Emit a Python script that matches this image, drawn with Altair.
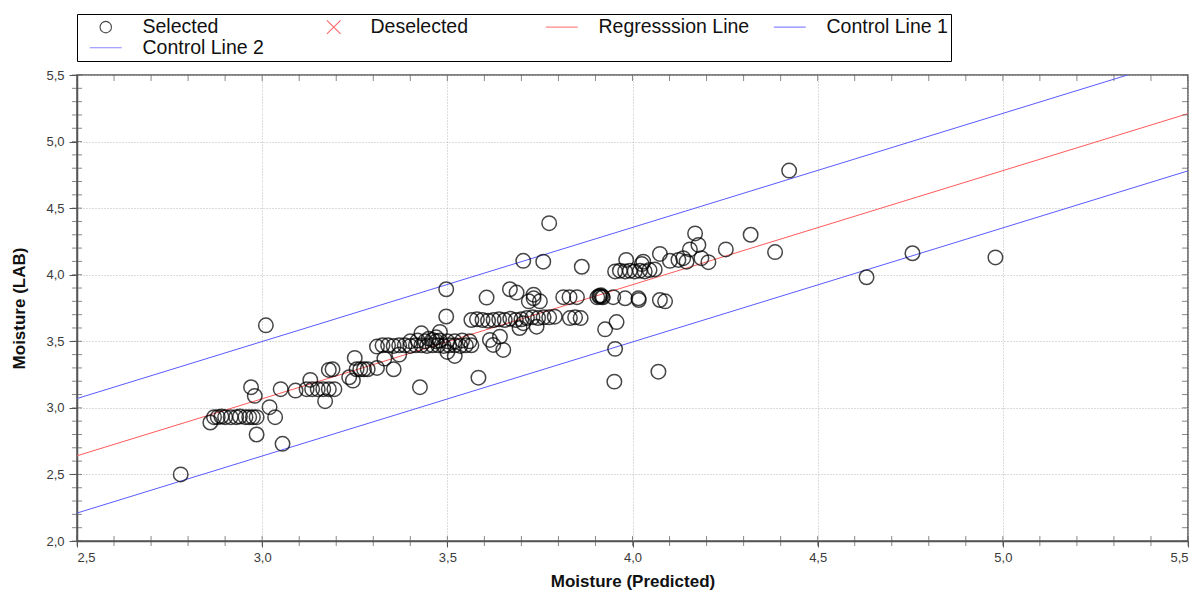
import altair as alt
import pandas as pd

# ---- data ----
x_pred = [
    2.78, 2.86, 2.87, 2.88, 2.89, 2.90, 2.915, 2.93, 2.94, 2.955, 2.965, 2.975, 2.985,
    2.97, 2.98, 2.985, 3.01, 3.02, 3.035, 3.05, 3.055,
    3.09, 3.12, 3.135, 3.15, 3.165, 3.18, 3.195, 3.13, 3.17, 3.18, 3.19,
    3.235, 3.245, 3.25, 3.255, 3.265, 3.275, 3.285, 3.31, 3.31, 3.33, 3.355, 3.37,
    3.325, 3.34, 3.355, 3.37, 3.385, 3.40, 3.415, 3.43, 3.445, 3.46, 3.475, 3.49, 3.505,
    3.52, 3.535, 3.55, 3.565,
    3.40, 3.42, 3.44, 3.46, 3.47, 3.48, 3.50, 3.52, 3.54, 3.56,
    3.43, 3.48, 3.426, 3.52, 3.50, 3.497, 3.497, 3.45, 3.47,
    3.565, 3.58, 3.595, 3.61, 3.625, 3.64, 3.655, 3.67, 3.685, 3.70, 3.715, 3.73, 3.745,
    3.76, 3.775, 3.79,
    3.606, 3.584, 3.615, 3.642, 3.651, 3.624, 3.669, 3.687, 3.733, 3.733, 3.72, 3.75,
    3.705, 3.741, 3.695, 3.705, 3.759, 3.775,
    3.813, 3.83, 3.85, 3.831, 3.845, 3.86, 3.863,
    3.905, 3.91, 3.912, 3.915, 3.918, 3.92,
    3.926, 3.957, 3.953, 3.951, 4.07,
    3.948, 3.98, 4.016, 4.017, 4.074, 4.088,
    3.953, 3.966, 3.98, 3.993, 4.006, 4.02, 4.033, 4.046, 4.06,
    3.983, 4.029, 4.025, 4.074, 4.101,
    4.124, 4.137, 4.146, 4.155, 4.169, 4.178, 4.186, 4.205, 4.252, 4.319, 4.385, 4.423,
    4.632, 4.756, 4.98,
]
y_lab = [
    2.50, 2.89, 2.93, 2.93, 2.935, 2.93, 2.93, 2.93, 2.935, 2.93, 2.93, 2.93, 2.93,
    3.155, 3.09, 2.80, 3.62, 3.005, 2.93, 3.14, 2.73,
    3.13, 3.14, 3.14, 3.14, 3.14, 3.14, 3.14, 3.21, 3.05, 3.285, 3.29,
    3.23, 3.205, 3.375, 3.29, 3.29, 3.29, 3.29, 3.30, 3.46, 3.37, 3.29, 3.40,
    3.47, 3.47, 3.465, 3.47, 3.47, 3.465, 3.47, 3.47, 3.465, 3.47, 3.47, 3.465, 3.47,
    3.47, 3.465, 3.47, 3.47,
    3.50, 3.505, 3.50, 3.51, 3.50, 3.505, 3.50, 3.50, 3.505, 3.50,
    3.56, 3.57, 3.155, 3.39, 3.42, 3.686, 3.891, 3.52, 3.53,
    3.66, 3.665, 3.66, 3.655, 3.66, 3.665, 3.66, 3.67, 3.66, 3.665, 3.675, 3.68, 3.675,
    3.68, 3.68, 3.685,
    3.828, 3.227, 3.51, 3.535, 3.435, 3.473, 3.891, 3.866, 3.823, 3.85, 3.80, 3.80,
    3.636, 3.61, 3.60, 4.104, 4.098, 4.387,
    3.831, 3.831, 3.831, 3.674, 3.68, 3.674, 4.06,
    3.83, 3.84, 3.836, 3.845, 3.835, 3.83,
    3.59, 3.644, 3.443, 3.197, 3.272,
    3.831, 3.823, 3.823, 3.81, 3.81, 3.80,
    4.025, 4.03, 4.025, 4.03, 4.025, 4.03, 4.025, 4.035, 4.04,
    4.111, 4.098, 4.08, 4.156, 4.104,
    4.111, 4.124, 4.098, 4.19, 4.31, 4.224, 4.124, 4.094, 4.19, 4.30, 4.17, 4.782,
    3.981, 4.161, 4.13,
]

series_names = ["Selected", "Deselected", "Regresssion Line", "Control Line 1", "Control Line 2"]
series_colors = ["#000000", "#ff3030", "#ff5a5a", "#5a5aff", "#5a5aff"]

line_x = [2.5, 5.5]
regression_y = [2.64, 5.21]
control1_y = [3.07, 5.64]
control2_y = [2.21, 4.78]

x_major = [2.5, 3.0, 3.5, 4.0, 4.5, 5.0, 5.5]
y_major = [2.0, 2.5, 3.0, 3.5, 4.0, 4.5, 5.0, 5.5]
x_all_ticks = [2.5, 2.6, 2.7, 2.8, 2.9, 3.0, 3.1, 3.2, 3.3, 3.4, 3.5, 3.6, 3.7, 3.8, 3.9,
               4.0, 4.1, 4.2, 4.3, 4.4, 4.5, 4.6, 4.7, 4.8, 4.9, 5.0, 5.1, 5.2, 5.3, 5.4, 5.5]
y_all_ticks = [2.0, 2.1, 2.2, 2.3, 2.4, 2.5, 2.6, 2.7, 2.8, 2.9, 3.0, 3.1, 3.2, 3.3, 3.4,
               3.5, 3.6, 3.7, 3.8, 3.9, 4.0, 4.1, 4.2, 4.3, 4.4, 4.5, 4.6, 4.7, 4.8, 4.9,
               5.0, 5.1, 5.2, 5.3, 5.4, 5.5]

# ---- tables ----
points = pd.DataFrame({"x": x_pred, "y": y_lab, "series": "Selected"})
reg_df = pd.DataFrame({"x": line_x, "y": regression_y})
c1_df = pd.DataFrame({"x": line_x, "y": control1_y})
c2_df = pd.DataFrame({"x": line_x, "y": control2_y})
xt_df = pd.DataFrame({"t": x_all_ticks})
yt_df = pd.DataFrame({"t": y_all_ticks})

FONT = "Liberation Sans"
comma = "replace(format(datum.value, '.1f'), '.', ',')"

xs = alt.Scale(domain=[2.5, 5.5], nice=False, zero=False)
ys = alt.Scale(domain=[2.0, 5.5], nice=False, zero=False)

x_axis = alt.Axis(values=x_major, labelExpr=comma, title="Moisture (Predicted)",
                  grid=True, gridDash=[1, 2], gridColor="#b8b8b8", gridWidth=1,
                  tickSize=6, tickColor="#555555", labelPadding=4, titlePadding=9,
                  domainColor="#555555", domainWidth=1.5)
y_axis = alt.Axis(values=y_major, labelExpr=comma, title="Moisture (LAB)",
                  grid=True, gridDash=[1, 2], gridColor="#b8b8b8", gridWidth=1,
                  tickSize=8, tickColor="#555555", labelPadding=5, titlePadding=17,
                  domainColor="#555555", domainWidth=1.5)

X_PATH = "M-1.2,-1.2L1.2,1.2M-1.2,1.2L1.2,-1.2"
LINE_PATH = "M-2.8,0L2.8,0"

legend = alt.Legend(
    title=None, orient="none", legendX=0, legendY=-61, direction="horizontal",
    columns=4, gridAlign="all", columnPadding=14, rowPadding=0,
    fillColor="white", strokeColor="#000000", padding=3,
    labelFont=FONT, labelFontSize=19.5, labelColor="#111111", labelLimit=400,
    labelOffset=27, symbolSize=130, symbolStrokeWidth=1.1, symbolOffset=16,
)

pts = alt.Chart(points).mark_point(filled=False, size=210, strokeWidth=1.5, opacity=0.72).encode(
    x=alt.X("x:Q", scale=xs, axis=x_axis),
    y=alt.Y("y:Q", scale=ys, axis=y_axis),
    color=alt.Color("series:N", scale=alt.Scale(domain=series_names, range=series_colors), legend=legend),
    shape=alt.Shape("series:N", scale=alt.Scale(domain=series_names,
                    range=["circle", X_PATH, LINE_PATH, LINE_PATH, LINE_PATH]), legend=legend),
)

def line_layer(df, color):
    return alt.Chart(df).mark_line(color=color, strokeWidth=1, clip=True).encode(
        x=alt.X("x:Q", scale=xs, axis=x_axis),
        y=alt.Y("y:Q", scale=ys, axis=y_axis),
    )

reg = line_layer(reg_df, "#ff5a5a")
ctl1 = line_layer(c1_df, "#5a5aff")
ctl2 = line_layer(c2_df, "#5a5aff")

tick_col = "#555555"
bottom_ticks = alt.Chart(xt_df).mark_tick(orient="vertical", size=10, thickness=1, color=tick_col).encode(
    x=alt.X("t:Q", scale=xs, axis=x_axis),
    y=alt.YDatum(2.0, type="quantitative", scale=ys, axis=y_axis),
)
top_ticks = alt.Chart(xt_df).mark_tick(orient="vertical", size=12, thickness=1, color=tick_col, clip=True).encode(
    x=alt.X("t:Q", scale=xs, axis=x_axis),
    y=alt.YDatum(5.5, type="quantitative", scale=ys, axis=y_axis),
)
left_ticks = alt.Chart(yt_df).mark_tick(orient="horizontal", size=10, thickness=1, color=tick_col).encode(
    y=alt.Y("t:Q", scale=ys, axis=y_axis),
    x=alt.XDatum(2.5, type="quantitative", scale=xs, axis=x_axis),
)
right_ticks = alt.Chart(yt_df).mark_tick(orient="horizontal", size=12, thickness=1, color=tick_col, clip=True).encode(
    y=alt.Y("t:Q", scale=ys, axis=y_axis),
    x=alt.XDatum(5.5, type="quantitative", scale=xs, axis=x_axis),
)

chart = alt.layer(
    reg, ctl1, ctl2, bottom_ticks, top_ticks, left_ticks, right_ticks, pts
).properties(
    width=1111, height=466,
    autosize=alt.AutoSizeParams(type="none"),
    padding={"left": 69, "top": 67, "right": 7, "bottom": 50},
    background="white",
).configure_view(
    stroke="#555555", strokeWidth=1.5,
).configure_axis(
    labelFont=FONT, labelFontSize=13, labelColor="#3a3a3a",
    titleFont=FONT, titleFontSize=17, titleFontWeight="bold", titleColor="#111111",
)

chart.save("out.html", embed_options={"renderer": "svg", "actions": False})
